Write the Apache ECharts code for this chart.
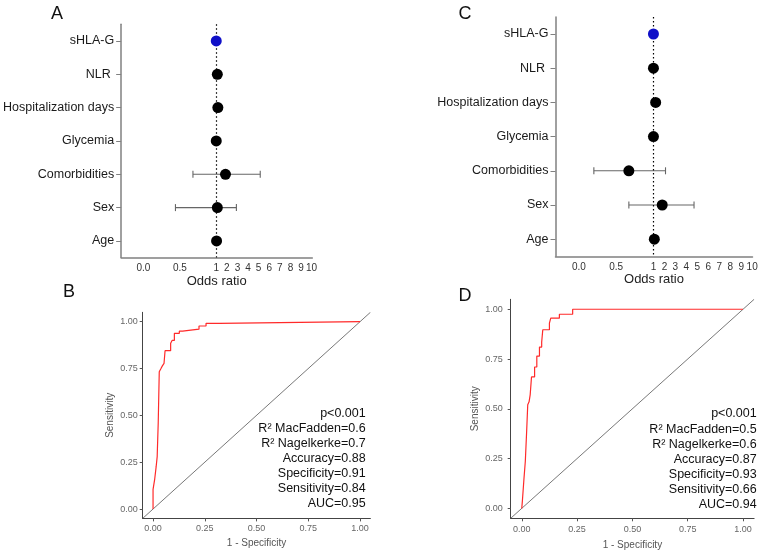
<!DOCTYPE html>
<html>
<head>
<meta charset="utf-8">
<script src="https://cdn.jsdelivr.net/npm/echarts@6/dist/echarts.min.js"></script>
<style>html,body{margin:0;padding:0;background:#fff}#c{width:766px;height:555px}</style>
</head>
<body>
<div id="c"></div>
<script>
// ---------- data ----------
const categories = ['sHLA-G', 'NLR ', 'Hospitalization days', 'Glycemia', 'Comorbidities', 'Sex', 'Age'];
// Panel A odds ratios and 95% CI
const orA   = [1.0, 1.1, 1.15, 1.0, 1.87, 1.1, 1.03];
const lowA  = [null, null, null, null, 0.68, 0.44, null];
const highA = [null, null, null, null, 5.15, 2.9, null];
// Panel C odds ratios and 95% CI
const orC   = [1.0, 1.0, 1.2, 1.0, 0.67, 1.8, 1.08];
const lowC  = [null, null, null, null, 0.2, 0.67, null];
const highC = [null, null, null, null, 2.1, 4.7, null];
// Odds-ratio axis tick labels
const orTickValues = [0, 0.5, 1, 2, 3, 4, 5, 6, 7, 8, 9, 10];
const orTickLabels = ['0.0', '0.5', '1', '2', '3', '4', '5', '6', '7', '8', '9', '10'];
// ROC curves (step points: false positive rate, true positive rate)
const fprB = [0, 0, 0.008, 0.015, 0.02, 0.025, 0.03, 0.037, 0.045, 0.053, 0.058, 0.085, 0.092, 0.103, 0.127, 0.143, 0.222, 0.256, 0.32, 1.0];
const tprB = [0, 0.105, 0.16, 0.226, 0.28, 0.46, 0.733, 0.747, 0.764, 0.777, 0.845, 0.885, 0.9, 0.938, 0.95, 0.96, 0.977, 0.991, 1.0, 1.0];
const fprD = [0, 0.003, 0.01, 0.016, 0.022, 0.027, 0.033, 0.038, 0.044, 0.058, 0.068, 0.08, 0.09, 0.095, 0.125, 0.131, 0.17, 0.23, 1.0];
const tprD = [0, 0.04, 0.15, 0.235, 0.385, 0.52, 0.535, 0.57, 0.66, 0.71, 0.765, 0.81, 0.835, 0.897, 0.93, 0.955, 0.975, 1.0, 1.0];
const rocTicks = [0, 0.25, 0.5, 0.75, 1];
const statsB = ['p<0.001', 'R² MacFadden=0.6', 'R² Nagelkerke=0.7', 'Accuracy=0.88', 'Specificity=0.91', 'Sensitivity=0.84', 'AUC=0.95'];
const statsD = ['p<0.001', 'R² MacFadden=0.5', 'R² Nagelkerke=0.6', 'Accuracy=0.87', 'Specificity=0.93', 'Sensitivity=0.66', 'AUC=0.94'];
const panelLetters = ['A', 'B', 'C', 'D'];

// ---------- helpers ----------
const FONT = "'Liberation Sans', Arial, sans-serif";
function makeT(k) { return v => (v <= 1 ? v : 1 + (v - 1) * k); }
const tA = makeT(0.1454), tC = makeT(0.1473);

function forestAxisX(gi, tf, min, max) {
  const vals = orTickValues.map(tf);
  return {
    gridIndex: gi, type: 'value', min: min, max: max,
    name: 'Odds ratio', nameLocation: 'middle', nameGap: 15,
    nameTextStyle: { fontFamily: FONT, fontSize: 13, color: '#222' },
    axisLine: { show: true, onZero: false, lineStyle: { color: '#808080', width: 1.5 } },
    axisTick: { show: false },
    splitLine: { show: false },
    axisLabel: {
      customValues: vals, margin: 6, fontFamily: FONT, fontSize: 10, color: '#333',
      formatter: v => { let best = 0; vals.forEach((x, i) => { if (Math.abs(x - v) < Math.abs(vals[best] - v)) best = i; }); return orTickLabels[best]; }
    }
  };
}
function forestAxisY(gi) {
  return {
    gridIndex: gi, type: 'category', data: categories, inverse: true,
    axisLine: { show: true, onZero: false, lineStyle: { color: '#808080', width: 1.5 } },
    axisTick: { show: true, alignWithLabel: true, length: 5, lineStyle: { color: '#808080' } },
    axisLabel: { margin: 7, fontFamily: FONT, fontSize: 12.5, color: '#1a1a1a' },
    splitLine: { show: false }
  };
}
function forestSeries(gi, tf, ors, lows, highs) {
  const errData = [];
  lows.forEach((l, i) => { if (l != null) errData.push([tf(l), tf(highs[i]), i]); });
  return [
    {
      type: 'custom', xAxisIndex: gi, yAxisIndex: gi, data: errData, z: 2,
      renderItem: (params, api) => {
        const a = api.coord([api.value(0), api.value(2)]);
        const b = api.coord([api.value(1), api.value(2)]);
        const h = 3.5, st = { stroke: '#666', lineWidth: 1.1 };
        return { type: 'group', children: [
          { type: 'line', shape: { x1: a[0], y1: a[1], x2: b[0], y2: b[1] }, style: st },
          { type: 'line', shape: { x1: a[0], y1: a[1] - h, x2: a[0], y2: a[1] + h }, style: st },
          { type: 'line', shape: { x1: b[0], y1: b[1] - h, x2: b[0], y2: b[1] + h }, style: st }
        ]};
      }
    },
    {
      type: 'scatter', xAxisIndex: gi, yAxisIndex: gi, symbolSize: 11, z: 5,
      itemStyle: { opacity: 1 },
      data: ors.map((v, i) => ({ value: [tf(v), i], itemStyle: { color: i === 0 ? '#1010c8' : '#000', opacity: 1 } })),
      markLine: {
        silent: true, symbol: 'none', label: { show: false },
        lineStyle: { type: [1.5, 2.5], color: '#000', width: 1.2 },
        data: [{ xAxis: 1 }]
      }
    }
  ];
}
function rocAxisX(gi, margin, gap) {
  return {
    gridIndex: gi, type: 'value', min: -0.05, max: 1.05,
    name: '1 - Specificity', nameLocation: 'middle', nameGap: gap,
    nameTextStyle: { fontFamily: FONT, fontSize: 10, color: '#555' },
    axisLine: { show: true, onZero: false, lineStyle: { color: '#444', width: 1 } },
    axisTick: { show: true, customValues: rocTicks, length: 3, lineStyle: { color: '#555' } },
    axisLabel: { customValues: rocTicks, margin: margin, fontFamily: FONT, fontSize: 9, color: '#666', formatter: v => v.toFixed(2) },
    splitLine: { show: false }
  };
}
function rocAxisY(gi, margin, gap) {
  return {
    gridIndex: gi, type: 'value', min: -0.05, max: 1.05,
    name: 'Sensitivity', nameLocation: 'middle', nameGap: gap,
    nameTextStyle: { fontFamily: FONT, fontSize: 10, color: '#555' },
    axisLine: { show: true, onZero: false, lineStyle: { color: '#444', width: 1 } },
    axisTick: { show: true, customValues: rocTicks, length: 3, lineStyle: { color: '#555' } },
    axisLabel: { customValues: rocTicks, margin: margin, fontFamily: FONT, fontSize: 9, color: '#666', formatter: v => v.toFixed(2) },
    splitLine: { show: false }
  };
}
function stepPoints(fpr, tpr) {
  const pts = [[fpr[0], tpr[0]]];
  for (let i = 1; i < fpr.length; i++) {
    pts.push([fpr[i], tpr[i - 1]]);
    pts.push([fpr[i], tpr[i]]);
  }
  return pts;
}
function rocSeries(gi, fpr, tpr) {
  return [
    { type: 'line', xAxisIndex: gi, yAxisIndex: gi, data: [[-0.05, -0.05], [1.05, 1.05]], symbol: 'none',
      lineStyle: { color: '#555', width: 0.8 }, silent: true, z: 2 },
    { type: 'line', xAxisIndex: gi, yAxisIndex: gi, data: stepPoints(fpr, tpr), symbol: 'none',
      lineStyle: { color: '#ff2a2a', width: 1.2 }, z: 3 }
  ];
}
function textEl(x, y, text, size, align) {
  return { type: 'text', x: x, y: y, style: { text: text, fontFamily: FONT, fontSize: size, fill: '#111', align: align, verticalAlign: 'middle' } };
}

const option = {
  animation: false,
  backgroundColor: '#fff',
  grid: [
    { left: 121, top: 24.3, width: 191.3, height: 233.3 },
    { left: 555.5, top: 16.9, width: 197, height: 239.4 },
    { left: 142.7, top: 312.3, width: 227.7, height: 206.1 },
    { left: 510.7, top: 299.3, width: 243.4, height: 219 }
  ],
  xAxis: [
    forestAxisX(0, tA, -0.305, 2.318),
    forestAxisX(1, tC, -0.315, 2.33),
    rocAxisX(2, 5.5, 19.5),
    rocAxisX(3, 6.5, 21.5)
  ],
  yAxis: [
    forestAxisY(0),
    forestAxisY(1),
    rocAxisY(2, 5, 27),
    rocAxisY(3, 8, 30.5)
  ],
  series: [].concat(
    forestSeries(0, tA, orA, lowA, highA),
    forestSeries(1, tC, orC, lowC, highC),
    rocSeries(2, fprB, tprB),
    rocSeries(3, fprD, tprD)
  ),
  graphic: [
    textEl(57, 14, panelLetters[0], 18, 'center'),
    textEl(69, 292, panelLetters[1], 18, 'center'),
    textEl(465, 14, panelLetters[2], 18, 'center'),
    textEl(465, 296, panelLetters[3], 18, 'center')
  ].concat(
    statsB.map((s, i) => textEl(365.7, 413.3 + i * 15.1, s, 12.5, 'right')),
    statsD.map((s, i) => textEl(756.7, 414 + i * 15.05, s, 12.5, 'right'))
  )
};
echarts.init(document.getElementById('c'), null, { renderer: 'canvas' }).setOption(option);
</script>
</body>
</html>
